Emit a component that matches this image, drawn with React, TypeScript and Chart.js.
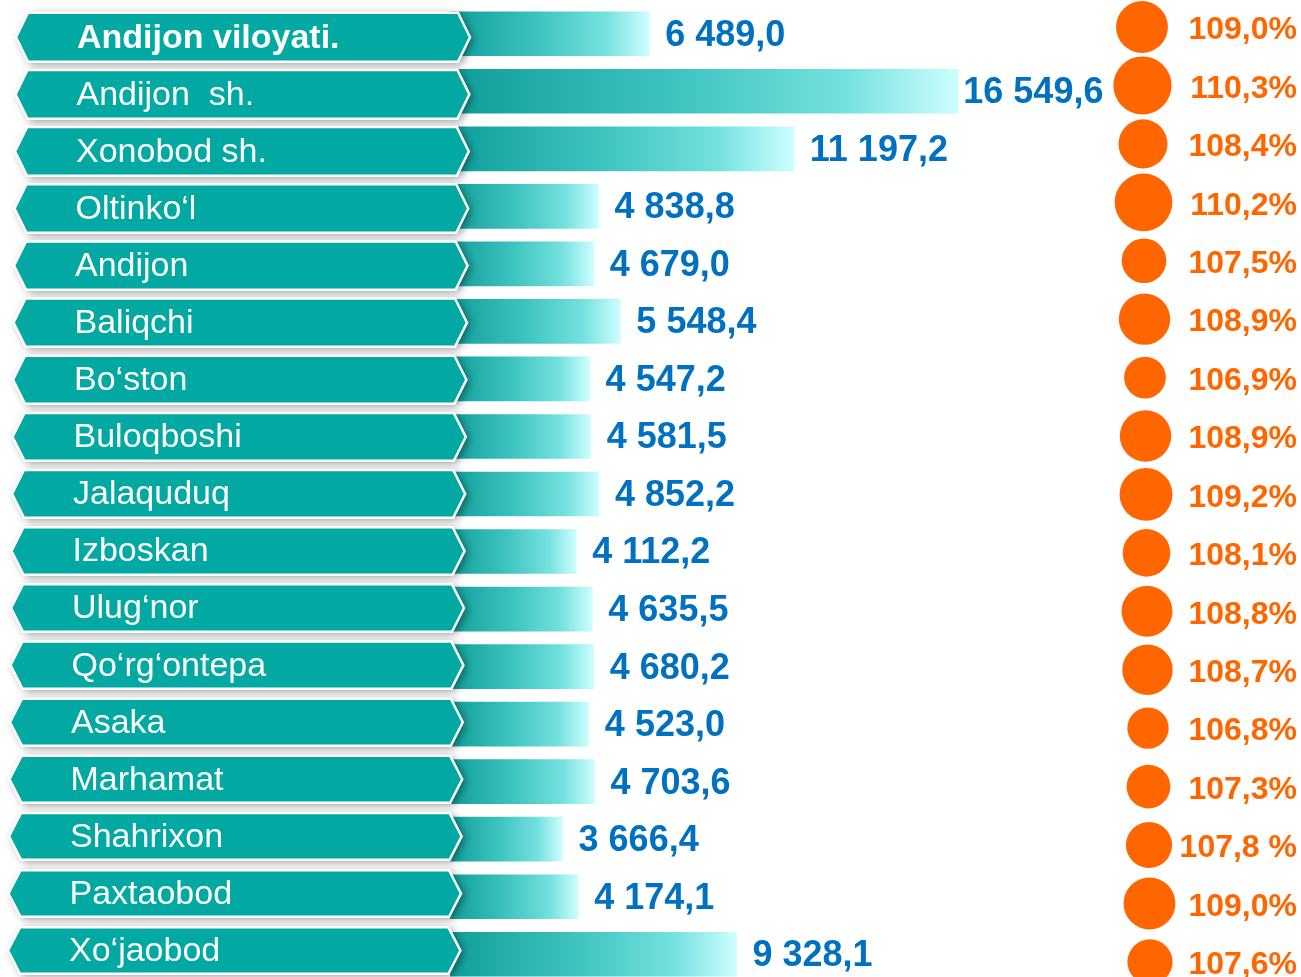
import React, { useEffect, useRef } from "react";
import { Chart, registerables } from "chart.js";

Chart.register(...registerables);

const categories: string[] = [
  "Andijon viloyati.",
  "Andijon  sh.",
  "Xonobod sh.",
  "Oltinko‘l",
  "Andijon",
  "Baliqchi",
  "Bo‘ston",
  "Buloqboshi",
  "Jalaquduq",
  "Izboskan",
  "Ulug‘nor",
  "Qo‘rg‘ontepa",
  "Asaka",
  "Marhamat",
  "Shahrixon",
  "Paxtaobod",
  "Xo‘jaobod",
];

const values: number[] = [
  6489.0, 16549.6, 11197.2, 4838.8, 4679.0, 5548.4, 4547.2, 4581.5, 4852.2,
  4112.2, 4635.5, 4680.2, 4523.0, 4703.6, 3666.4, 4174.1, 9328.1,
];

const growthLabels: string[] = [
  "109,0%", "110,3%", "108,4%", "110,2%", "107,5%", "108,9%", "106,9%",
  "108,9%", "109,2%", "108,1%", "108,8%", "108,7%", "106,8%", "107,3%",
  "107,8 %", "109,0%", "107,6%",
];

const FONT = "'Liberation Sans', Arial, sans-serif";

function formatValue(v: number): string {
  const [intPart, dec] = v.toFixed(1).split(".");
  const spaced = intPart.replace(/\B(?=(\d{3})+(?!\d))/g, " ");
  return spaced + "," + dec;
}

function growthNumber(label: string): number {
  return parseFloat(label.replace("%", "").replace(" ", "").replace(",", "."));
}

const infographicPlugin = {
  id: "infographic",
  afterDatasetsDraw(chart: any) {
    const ctx: CanvasRenderingContext2D = chart.ctx;
    const yScale = chart.scales.y;
    const meta = chart.getDatasetMeta(0);
    ctx.save();

    // Label banners
    categories.forEach((label, i) => {
      const cy = yScale.getPixelForValue(i) + 3.5 - 0.45 * i;
      const half = 24.5 - 0.08 * i;
      const tipL = 16 - 0.5 * i;
      const tipR = 470 - 0.6 * i;
      const inset = 12;
      ctx.beginPath();
      ctx.moveTo(tipL, cy);
      ctx.lineTo(tipL + inset, cy - half);
      ctx.lineTo(tipR - inset, cy - half);
      ctx.lineTo(tipR, cy);
      ctx.lineTo(tipR - inset, cy + half);
      ctx.lineTo(tipL + inset, cy + half);
      ctx.closePath();
      ctx.shadowColor = "rgba(0,0,0,0.45)";
      ctx.shadowBlur = 8;
      ctx.shadowOffsetX = 3;
      ctx.shadowOffsetY = 2;
      ctx.fillStyle = "#02a9a2";
      ctx.fill();
      ctx.shadowColor = "transparent";
      ctx.shadowBlur = 0;
      ctx.shadowOffsetX = 0;
      ctx.shadowOffsetY = 0;
      ctx.lineWidth = 2.5;
      ctx.strokeStyle = "#ffffff";
      ctx.stroke();

      ctx.fillStyle = "#ffffff";
      ctx.font = (i === 0 ? "bold " : "") + "34px " + FONT;
      ctx.textAlign = "left";
      ctx.textBaseline = "middle";
      ctx.fillText(label, tipL + 61, cy + 1);
    });

    // Circles and growth labels
    const circleLefts: number[] = [];
    growthLabels.forEach((label, i) => {
      const base = yScale.getPixelForValue(i);
      const pct = growthNumber(label);
      const r = 24.6 + (pct - 108.44) * 2.4;
      const cx = 1142 + 0.5 * i;
      const cy = base - 6.75 + 0.9 * i;
      circleLefts.push(cx - r);
      ctx.beginPath();
      ctx.arc(cx, cy, r, 0, Math.PI * 2);
      ctx.fillStyle = "#ff6600";
      ctx.fill();

      ctx.font = "bold 32px " + FONT;
      ctx.textAlign = "right";
      ctx.textBaseline = "middle";
      ctx.fillStyle = "#ff6600";
      ctx.fillText(label, 1297, base - 4.25 + 0.9 * i + 1);
    });

    // Value labels
    ctx.font = "bold 36px " + FONT;
    ctx.textAlign = "left";
    ctx.textBaseline = "middle";
    ctx.fillStyle = "#0070c0";
    meta.data.forEach((bar: any, i: number) => {
      const text = formatValue(values[i]);
      const w = ctx.measureText(text).width;
      const x = Math.min(bar.x + 16, circleLefts[i] - 10 - w);
      ctx.fillText(text, x, bar.y + 2);
    });

    ctx.restore();
  },
};

export default function App() {
  const canvasRef = useRef<HTMLCanvasElement | null>(null);

  useEffect(() => {
    const canvas = canvasRef.current;
    if (!canvas) return;
    const chart = new Chart(canvas, {
      type: "bar",
      data: {
        labels: categories,
        datasets: [
          {
            data: values,
            borderWidth: 0,
            barThickness: 44,
            backgroundColor: (context: any) => {
              const c = context.chart;
              const xs = c.scales && c.scales.x;
              if (!xs || !c.chartArea || context.raw == null) return "#3fc5c1";
              const x0 = xs.getPixelForValue(0);
              const x1 = xs.getPixelForValue(context.raw);
              const g = c.ctx.createLinearGradient(x0, 0, x1, 0);
              g.addColorStop(0, "#0f9e9a");
              g.addColorStop(0.45, "#3fc4c0");
              g.addColorStop(0.78, "#74e1de");
              g.addColorStop(1, "#cdfefe");
              return g;
            },
          },
        ],
      },
      options: {
        indexAxis: "y",
        responsive: false,
        animation: false,
        devicePixelRatio: 1,
        layout: { padding: { left: 450, right: 22, top: 5, bottom: 0 } },
        scales: {
          x: { display: false, min: 0, max: 27000 },
          y: { display: false },
        },
        plugins: {
          legend: { display: false },
          tooltip: { enabled: false },
        },
      } as any,
      plugins: [infographicPlugin],
    });
    return () => chart.destroy();
  }, []);

  return (
    <div
      style={{
        position: "fixed",
        left: 0,
        top: 0,
        width: 1301,
        height: 977,
        overflow: "hidden",
        background: "#ffffff",
      }}
    >
      <canvas
        ref={canvasRef}
        width={1301}
        height={983}
        style={{ display: "block", width: 1301, height: 983 }}
      />
    </div>
  );
}
